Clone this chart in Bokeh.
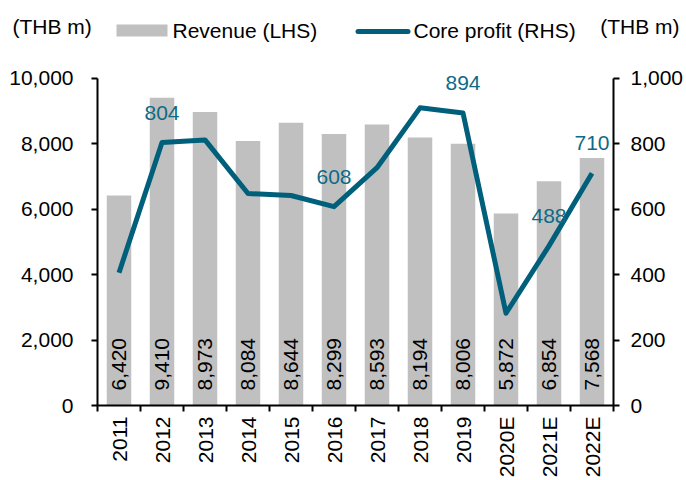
import math
from bokeh.plotting import figure
from bokeh.models import (Range1d, LinearAxis, FixedTicker, NumeralTickFormatter,
                          ColumnDataSource)
from bokeh.core.properties import value
from bokeh.embed import file_html
from bokeh.resources import INLINE

# ---- data ----
years = ["2011", "2012", "2013", "2014", "2015", "2016", "2017", "2018", "2019",
         "2020E", "2021E", "2022E"]
revenue = [6420, 9410, 8973, 8084, 8644, 8299, 8593, 8194, 8006, 5872, 6854, 7568]
core_profit = [406, 804, 812, 648, 642, 608, 727, 910, 894, 282, 488, 710]
profit_label_years = ["2012", "2016", "2019", "2021E", "2022E"]
left_ticks = [0, 2000, 4000, 6000, 8000, 10000]
right_ticks = [0, 200, 400, 600, 800, 1000]
unit_label = "(THB m)"
series_names = ["Revenue (LHS)", "Core profit (RHS)"]

FONT = "Liberation Sans"
FS = "21px"
BAR = "#C0C0C0"
TEAL = "#005F7A"
TEAL_TXT = "#0E6A85"
W = 686
HEAD_H = 60
MAIN_H = 420

# ---------------- header (units + legend) ----------------
head = figure(width=W, height=HEAD_H, output_backend="svg", toolbar_location=None,
              x_range=Range1d(0, W), y_range=Range1d(HEAD_H, 0),
              x_axis_location=None, y_axis_location=None, min_border=0)
head.outline_line_color = None
for g in head.grid:
    g.visible = False
txt = dict(text_font=value(FONT), text_font_size=FS, text_color="black",
           text_baseline="middle")
head.text(x=[12], y=[26], text=[unit_label], text_align="left", **txt)
head.text(x=[679], y=[26], text=[unit_label], text_align="right", **txt)
head.quad(left=[116], right=[167], top=[24], bottom=[36], fill_color=BAR, line_color=None)
head.text(x=[172], y=[30], text=[series_names[0]], text_align="left", **txt)
head.line(x=[357.5, 407.5], y=[31, 31], line_color=TEAL, line_width=5, line_cap="round")
head.text(x=[413], y=[30], text=[series_names[1]], text_align="left", **txt)

# ---------------- main chart ----------------
xs = [i + 0.5 for i in range(len(years))]
src = ColumnDataSource(dict(x=xs, year=years, revenue=revenue, profit=core_profit,
                            rev_label=[f"{v:,}" for v in revenue]))
sel = [years.index(y) for y in profit_label_years]
lab_src = ColumnDataSource(dict(x=[xs[i] for i in sel],
                                y=[core_profit[i] for i in sel],
                                t=[f"{core_profit[i]:,}" for i in sel]))

p = figure(width=W, height=MAIN_H, output_backend="svg", toolbar_location=None,
           x_range=Range1d(0, len(years)), y_range=Range1d(0, 10303),
           x_axis_location=None, y_axis_location=None,
           min_border_left=97, min_border_right=73, min_border_top=8, min_border_bottom=72)
p.extra_y_ranges = {"right": Range1d(0, 1030.3)}
p.outline_line_color = None
for g in p.grid:
    g.visible = False

p.vbar(x="x", top="revenue", width=0.57, source=src, fill_color=BAR, line_color=None)
p.text(x="x", y=0, text="rev_label", angle=math.pi / 2, text_align="left",
       text_baseline="middle", y_offset=-15, text_font=value(FONT), text_font_size=FS,
       text_color="black", source=src)
p.line(x="x", y="profit", y_range_name="right", source=src, line_color=TEAL,
       line_width=5, line_join="round")
p.text(x="x", y="y", text="t", y_range_name="right", y_offset=-30, text_align="center",
       text_baseline="middle", text_font=value(FONT), text_font_size=FS,
       text_color=TEAL_TXT, source=lab_src)


def style(ax, standoff):
    ax.axis_line_color = "black"
    ax.axis_line_width = 2
    ax.major_tick_line_color = "black"
    ax.major_tick_line_width = 2
    ax.major_tick_in = 0
    ax.major_tick_out = 6
    ax.minor_tick_line_color = None
    ax.major_label_text_font = FONT
    ax.major_label_text_font_size = FS
    ax.major_label_text_color = "black"
    ax.major_label_standoff = standoff


left = LinearAxis(ticker=FixedTicker(ticks=left_ticks), bounds=(0, 10000),
                  formatter=NumeralTickFormatter(format="0,0"))
style(left, 18)
p.add_layout(left, "left")

right = LinearAxis(y_range_name="right", ticker=FixedTicker(ticks=right_ticks),
                   bounds=(0, 1000), formatter=NumeralTickFormatter(format="0,0"))
style(right, 11)
p.add_layout(right, "right")

bottom = LinearAxis(ticker=FixedTicker(ticks=xs,
                                       minor_ticks=[float(i) for i in range(len(years) + 1)]))
style(bottom, 5)
bottom.major_tick_line_color = None
bottom.minor_tick_line_color = "black"
bottom.minor_tick_line_width = 2
bottom.minor_tick_in = 0
bottom.minor_tick_out = 6
bottom.major_label_orientation = math.pi / 2
bottom.major_label_overrides = {x: y for x, y in zip(xs, years)}
p.add_layout(bottom, "below")

open("out.html", "w").write(file_html([head, p], INLINE))
